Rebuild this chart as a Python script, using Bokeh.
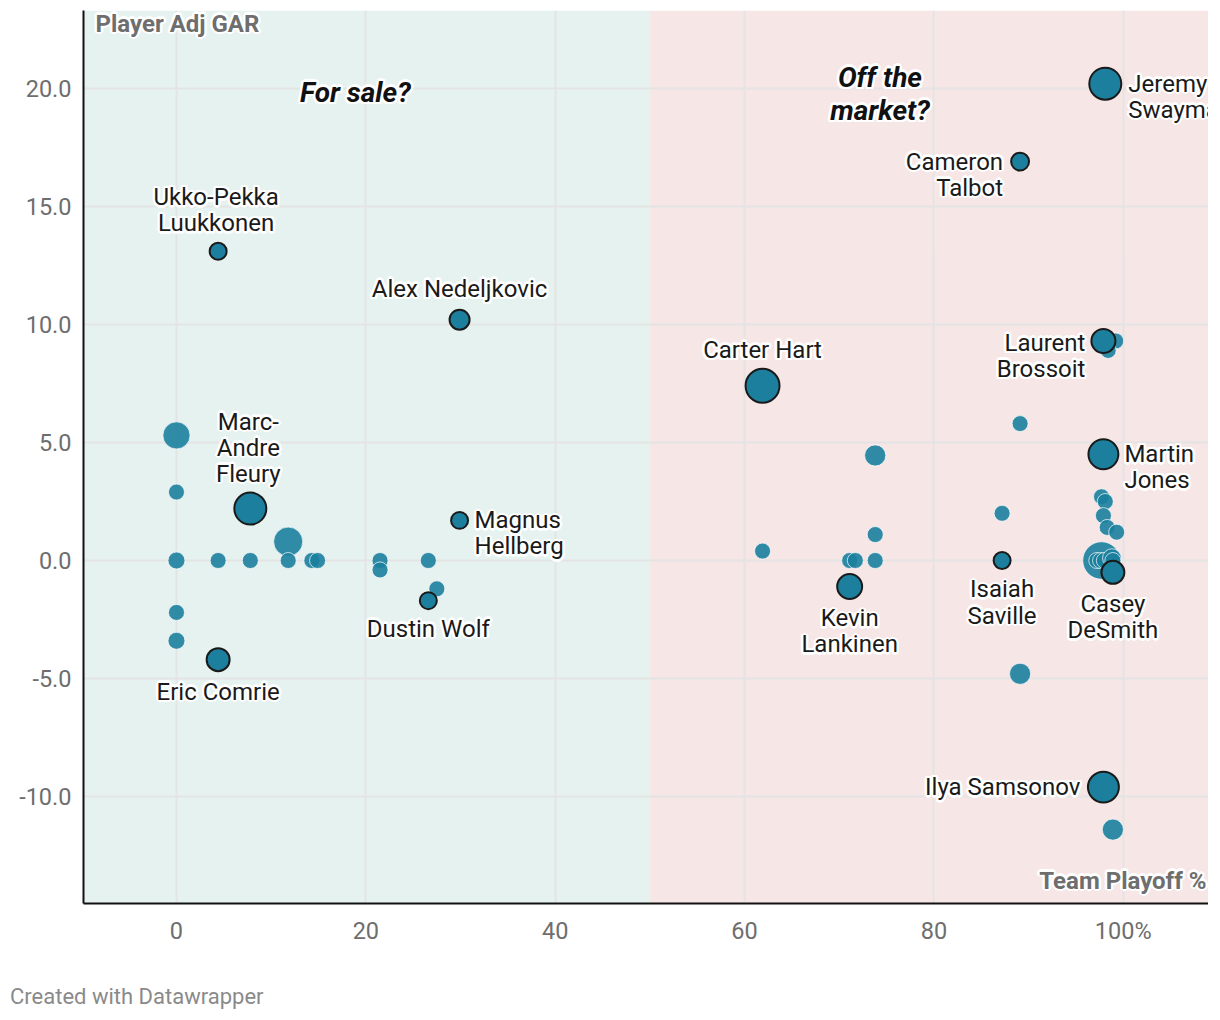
from bokeh.plotting import figure
from bokeh.models import (ColumnDataSource, BoxAnnotation, Range1d, Div,
                          FixedTicker, PrintfTickFormatter)
from bokeh.layouts import column
from bokeh.core.properties import value
from bokeh.embed import file_html
from bokeh.resources import INLINE
import numpy as np

# ---------------- data ----------------
# unlabelled goalies: team playoff %, adjusted GAR, games (bubble size)
other_x = [0, 0, 0, 0, 0, 4.4, 7.8, 11.8, 11.8, 14.3, 14.9, 21.5, 21.5, 26.6, 27.5,
           61.9, 71.1, 71.7, 73.8, 73.8, 73.8, 87.2, 89.1, 89.1,
           99.2, 98.4, 97.7, 98.1, 97.9, 98.3, 99.3,
           97.7, 97.2, 97.6, 98.0, 98.8, 98.9, 98.9]
other_y = [5.3, 2.9, 0, -2.2, -3.4, 0, 0, 0.8, 0, 0, 0, 0, -0.4, 0, -1.2,
           0.4, 0, 0, 4.45, 1.1, 0, 2.0, 5.8, -4.8,
           9.3, 8.9, 2.7, 2.5, 1.9, 1.4, 1.2,
           0.0, 0.0, 0.0, 0.0, 0.1, 0.0, -11.4]
other_gp = [46, 16, 18, 16, 18, 16, 16, 53, 16, 16, 16, 16, 16, 16, 16,
            16, 16, 16, 28, 16, 16, 16, 16, 28,
            16, 16, 16, 16, 16, 16, 16,
            88, 16, 16, 16, 22, 16, 28]

named_players = ["Jeremy Swayman", "Cameron Talbot", "Laurent Brossoit", "Martin Jones",
                 "Casey DeSmith", "Ilya Samsonov", "Isaiah Saville", "Kevin Lankinen",
                 "Carter Hart", "Alex Nedeljkovic", "Ukko-Pekka Luukkonen",
                 "Marc-Andre Fleury", "Magnus Hellberg", "Dustin Wolf", "Eric Comrie"]
named_labels = ["Jeremy\nSwayman", "Cameron\nTalbot", "Laurent\nBrossoit", "Martin\nJones",
                "Casey\nDeSmith", "Ilya Samsonov", "Isaiah\nSaville", "Kevin\nLankinen",
                "Carter Hart", "Alex Nedeljkovic", "Ukko-Pekka\nLuukkonen",
                "Marc-\nAndre\nFleury", "Magnus\nHellberg", "Dustin Wolf", "Eric Comrie"]
named_x = [98.1, 89.1, 97.9, 97.9, 98.9, 97.9, 87.2, 71.1, 61.9, 29.9, 4.4, 7.8, 29.9, 26.6, 4.4]
named_y = [20.2, 16.9, 9.3, 4.5, -0.5, -9.6, 0.0, -1.1, 7.4, 10.2, 13.1, 2.2, 1.7, -1.7, -4.2]
named_gp = [64, 20, 36, 56, 33, 60, 18, 39, 72, 25, 18, 64, 18, 18, 33]

x_ticks = [0, 20, 40, 60, 80, 100]
x_tick_labels = ["0", "20", "40", "60", "80", "100%"]
y_ticks = [-10, -5, 0, 5, 10, 15, 20]
split_at = 50

# ---------------- label placement (screen px, +dy = down) ----------------
placement = {
    "Jeremy Swayman": (23, 13, "left"),
    "Cameron Talbot": (-17, 13, "right"),
    "Laurent Brossoit": (-18, 15, "right"),
    "Martin Jones": (21, 13, "left"),
    "Casey DeSmith": (0, 45, "center"),
    "Ilya Samsonov": (-23, 0, "right"),
    "Isaiah Saville": (0, 42, "center"),
    "Kevin Lankinen": (0, 45, "center"),
    "Carter Hart": (0, -36, "center"),
    "Alex Nedeljkovic": (0, -31, "center"),
    "Ukko-Pekka Luukkonen": (-2, -41, "center"),
    "Marc-Andre Fleury": (-2, -61, "center"),
    "Magnus Hellberg": (15, 13, "left"),
    "Dustin Wolf": (0, 28, "center"),
    "Eric Comrie": (0, 32, "center"),
}

FONT = "Roboto"
DOT = "#1b7f9d"
HALO_OFFSETS = [(-2.5, 0), (2.5, 0), (0, -2.5), (0, 2.5),
                (-1.8, -1.8), (1.8, -1.8), (-1.8, 1.8), (1.8, 1.8)]

p = figure(width=1208, height=975, output_backend="svg", toolbar_location=None,
           x_range=Range1d(-9.82, 109.0), y_range=Range1d(-14.53, 23.3),
           min_border_left=83, min_border_right=0, min_border_top=10, min_border_bottom=72)
p.outline_line_color = None
p.background_fill_color = "white"

p.add_layout(BoxAnnotation(right=split_at, fill_color="#e5f2ef", fill_alpha=1,
                           line_color=None, level="image"))
p.add_layout(BoxAnnotation(left=split_at, fill_color="#f7e6e6", fill_alpha=1,
                           line_color=None, level="image"))

p.xgrid.grid_line_color = "#e4e4e4"
p.ygrid.grid_line_color = "#e4e4e4"
p.xgrid.grid_line_width = 2
p.ygrid.grid_line_width = 2

for ax in (p.xaxis, p.yaxis):
    ax.axis_line_color = "#111111"
    ax.axis_line_width = 2
    ax.major_tick_line_color = None
    ax.minor_tick_line_color = None
    ax.major_label_text_font = FONT
    ax.major_label_text_font_size = "23.5px"
    ax.major_label_text_color = "#6e6e6e"

p.xaxis.ticker = FixedTicker(ticks=x_ticks)
p.xaxis.major_label_overrides = {t: l for t, l in zip(x_ticks, x_tick_labels)}
p.xaxis.major_label_standoff = 7
p.yaxis.ticker = FixedTicker(ticks=y_ticks)
p.yaxis.formatter = PrintfTickFormatter(format="%.1f")
p.yaxis.major_label_standoff = 6

src_o = ColumnDataSource(dict(x=other_x, y=other_y,
                              s=[4 * np.sqrt(g) for g in other_gp]))
p.scatter("x", "y", size="s", source=src_o, fill_color=DOT, fill_alpha=0.9,
          line_color="white", line_alpha=0.7, line_width=1)

dx = [placement[n][0] for n in named_players]
dy = [placement[n][1] for n in named_players]
align = [placement[n][2] for n in named_players]

src_n = ColumnDataSource(dict(x=named_x, y=named_y, s=[4 * np.sqrt(g) for g in named_gp]))
p.scatter("x", "y", size="s", source=src_n, fill_color=DOT, fill_alpha=1,
          line_color="#1a1a1a", line_width=2)


def halo_text(xs, ys, texts, offx, offy, aligns, color, size, style="normal", lh=0.93):
    common = dict(text_baseline="middle", text_font=value(FONT), text_font_size=size,
                  text_font_style=style, text_line_height=lh)
    for hx, hy in HALO_OFFSETS:
        src = ColumnDataSource(dict(x=xs, y=ys, t=texts, a=aligns,
                                    ox=[o + hx for o in offx], oy=[o + hy for o in offy]))
        p.text("x", "y", text="t", source=src, x_offset="ox", y_offset="oy",
               text_align="a", text_color="white", **common)
    src = ColumnDataSource(dict(x=xs, y=ys, t=texts, a=aligns, ox=offx, oy=offy))
    p.text("x", "y", text="t", source=src, x_offset="ox", y_offset="oy",
           text_align="a", text_color=color, **common)


halo_text(named_x, named_y, named_labels, dx, dy, align, "#1a1a1a", "24px")

# quadrant annotations
halo_text([18.9], [19.83], ["For sale?"], [0], [0], ["center"], "#111111", "28px",
          "bold italic")
halo_text([74.3], [19.77], ["Off the\nmarket?"], [0], [0], ["center"], "#111111", "28px",
          "bold italic", lh=1.0)

# axis titles inside the frame
halo_text([-9.82], [23.3], ["Player Adj GAR"], [12], [13], ["left"], "#6e6e6e", "24px", "bold")
halo_text([109.0], [-14.53], ["Team Playoff %"], [-2], [-23], ["right"], "#6e6e6e", "24px",
          "bold")

footer = Div(text="Created with Datawrapper", width=400, height=30, margin=(10, 0, 0, 10),
             styles={"font-family": FONT, "font-size": "22px", "color": "#8a8a8a",
                     "line-height": "24px"})

layout = column(p, footer)
open("out.html", "w").write(file_html(layout, INLINE))
